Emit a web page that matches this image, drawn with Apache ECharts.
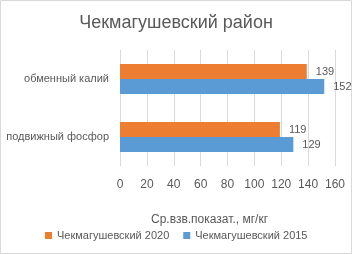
<!DOCTYPE html>
<html>
<head>
<meta charset="utf-8">
<script src="https://cdn.jsdelivr.net/npm/echarts@6/dist/echarts.min.js"></script>
<style>
  html, body { margin: 0; padding: 0; background: #fff; }
  #chart { width: 352px; height: 254px; }
</style>
</head>
<body>
<div id="chart"></div>
<script>
// данные
const categories = ['подвижный фосфор', 'обменный калий']
const values2015 = [129, 152]
const values2020 = [119, 139]
const seriesNames = ['Чекмагушевский 2020', 'Чекмагушевский 2015']
const xTicks = { min: 0, max: 160, interval: 20 }

const font = 'Liberation Sans'
const textGray = '#595959'

let chart = echarts.init(document.getElementById('chart'))
chart.setOption({
  animation: false,
  textStyle: { fontFamily: font },
  title: {
    text: 'Чекмагушевский район',
    left: 'center',
    top: 9,
    textStyle: { fontFamily: font, fontSize: 18, fontWeight: 'normal', color: textGray }
  },
  graphic: [{
    type: 'rect',
    shape: { x: 0.5, y: 0.5, width: 351, height: 253 },
    style: { fill: 'none', stroke: '#d9d9d9', lineWidth: 1 },
    silent: true
  }],
  legend: {
    data: seriesNames,
    bottom: 8,
    left: 40,
    itemWidth: 7,
    itemHeight: 7,
    itemGap: 14,
    icon: 'rect',
    textStyle: { fontFamily: font, fontSize: 11, color: textGray }
  },
  grid: { left: 120, right: 17, top: 50, bottom: 88, outerBoundsMode: 'none' },
  xAxis: {
    type: 'value',
    min: xTicks.min,
    max: xTicks.max,
    interval: xTicks.interval,
    axisLine: { show: false },
    axisTick: { show: false },
    axisLabel: { color: textGray, fontSize: 12, margin: 13 },
    splitLine: { lineStyle: { color: '#d9d9d9' } },
    name: 'Ср.взв.показат., мг/кг',
    nameLocation: 'middle',
    nameGap: 48,
    nameTextStyle: { color: textGray, fontSize: 12, padding: [0, 36, 0, 0] }
  },
  yAxis: {
    type: 'category',
    data: categories,
    axisLine: { show: false },
    axisTick: { show: false },
    axisLabel: { color: textGray, fontSize: 11, margin: 11 }
  },
  series: [
    {
      name: seriesNames[0],
      type: 'bar',
      data: values2020,
      barWidth: 15,
      barGap: '0%',
      itemStyle: { color: '#ED7D31' },
      label: { show: true, position: 'right', distance: 9, color: textGray, fontSize: 11 }
    },
    {
      name: seriesNames[1],
      type: 'bar',
      data: values2015,
      barWidth: 15,
      barGap: '0%',
      itemStyle: { color: '#5B9BD5' },
      label: { show: true, position: 'right', distance: 9, color: textGray, fontSize: 11 }
    }
  ]
})
</script>
</body>
</html>
